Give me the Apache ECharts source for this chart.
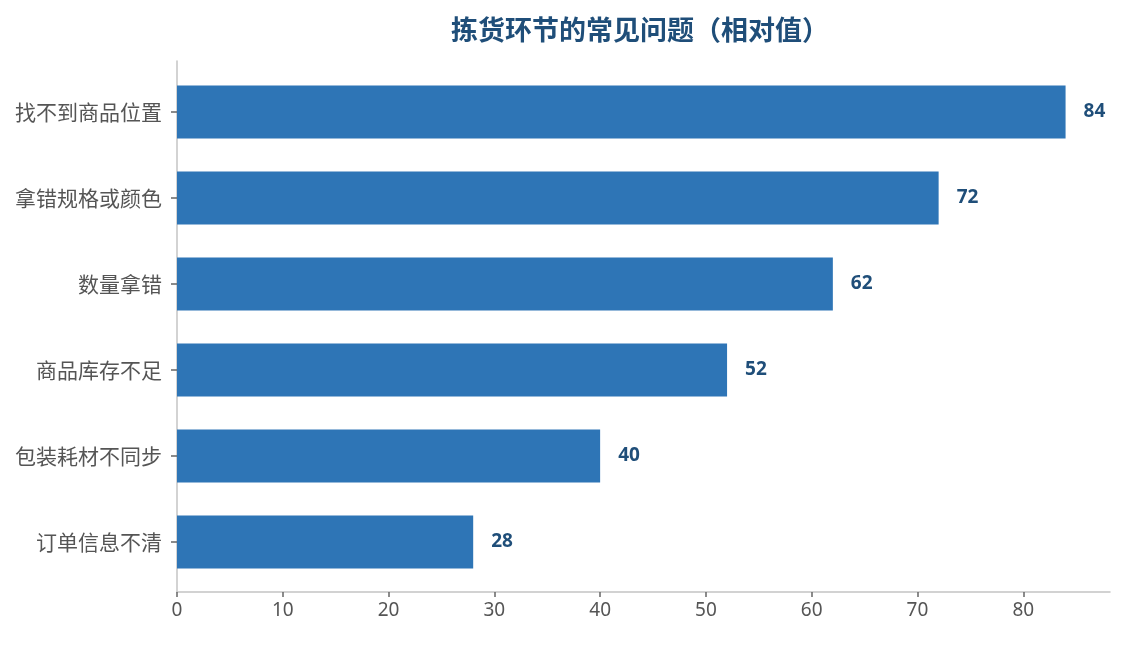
<!DOCTYPE html>
<html>
<head>
<meta charset="utf-8">
<script src="https://cdn.jsdelivr.net/npm/echarts@6/dist/echarts.min.js"></script>
<style>
  html, body { margin: 0; padding: 0; background: #fff; }
  #chart { width: 1124px; height: 645px; }
</style>
</head>
<body>
<div id="chart"></div>
<script>
// 数据
const categories = ["订单信息不清", "包装耗材不同步", "商品库存不足", "数量拿错", "拿错规格或颜色", "找不到商品位置"];
const values = [28, 40, 52, 62, 72, 84];
const xTicks = [0, 10, 20, 30, 40, 50, 60, 70, 80];

const FONT = '"Noto Sans CJK SC", "Noto Sans", sans-serif';
const NUM_FONT = '"Noto Sans", "Noto Sans CJK SC", sans-serif';
const xMax = 88.2;

const chart = echarts.init(document.getElementById("chart"));

const option = {
    animation: false,
    backgroundColor: "#ffffff",
    title: {
        text: "拣货环节的常见问题（相对值）",
        left: 635,
        textAlign: "center",
        top: 11,
        textStyle: { fontFamily: FONT, fontSize: 27, fontWeight: "bold", color: "#1f4e79" }
    },
    grid: [
        // 条形所在区域
        { left: 177, right: 14, top: 69, height: 516 },
        // 坐标轴框线
        { left: 177, right: 14, top: 61, bottom: 53 }
    ],
    xAxis: [
        {
            gridIndex: 0, type: "value", min: 0, max: xMax,
            show: false
        },
        {
            gridIndex: 1, type: "value", min: 0, max: xMax, interval: 10,
            axisLine: { show: true, lineStyle: { color: "#c4c4c4", width: 1.5 } },
            axisTick: { show: true, length: 5, lineStyle: { color: "#666", width: 1.5 } },
            axisLabel: {
                margin: 9, fontFamily: NUM_FONT, fontSize: 19, color: "#555",
                showMaxLabel: false,
                formatter: v => (xTicks.indexOf(v) >= 0 ? String(v) : "")
            },
            splitLine: { show: false }
        }
    ],
    yAxis: [
        {
            gridIndex: 0, type: "category", data: categories,
            axisLine: { show: false },
            axisTick: { show: true, alignWithLabel: true, length: 6, lineStyle: { color: "#666", width: 1.5 } },
            axisLabel: { margin: 15, fontFamily: FONT, fontSize: 21, color: "#555" }
        },
        {
            gridIndex: 1, type: "value", min: 0, max: 1,
            axisLine: { show: true, lineStyle: { color: "#c4c4c4", width: 1.5 } },
            axisTick: { show: false },
            axisLabel: { show: false },
            splitLine: { show: false }
        }
    ],
    series: [
        {
            type: "bar",
            xAxisIndex: 0,
            yAxisIndex: 0,
            data: values,
            barWidth: 53,
            itemStyle: { color: "#2e75b6" },
            label: {
                show: true,
                position: "right",
                distance: 18,
                fontFamily: NUM_FONT,
                fontSize: 19,
                fontWeight: "bold",
                color: "#1f4e79"
            }
        }
    ]
};

chart.setOption(option);
window.addEventListener("resize", () => chart.resize());
</script>
</body>
</html>
